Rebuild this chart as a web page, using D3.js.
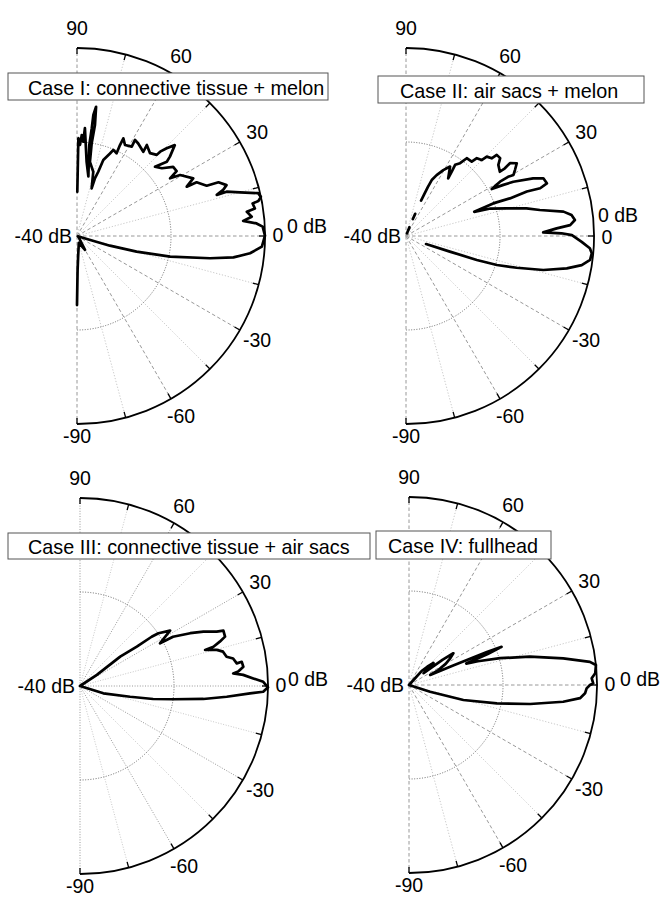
<!DOCTYPE html>
<html>
<head>
<meta charset="utf-8">
<script src="https://cdn.jsdelivr.net/npm/d3@7"></script>
<style>
  html, body { margin: 0; padding: 0; background: #fff; }
  svg { display: block; }
  text { font-family: "Liberation Sans", Arial, Helvetica, sans-serif; fill: #000; }
</style>
</head>
<body>
<svg id="chart" width="662" height="902"></svg>
<script>
// ---------- data (angle in degrees, level in dB; null = gap) ----------
const titles = [
  "Case I: connective tissue + melon",
  "Case II: air sacs + melon",
  "Case III: connective tissue + air sacs",
  "Case IV: fullhead"
];
const angleTicks = [90, 60, 30, 0, -30, -60, -90];
const radialMin = -40, radialMax = 0, radialMid = -20;
const radialLabels = ["-40 dB", "0 dB"];

const case1Angles = [-90, -89, -87, -75, -60, -40, -18, -17, -16.4, -14.7, -12.5, -9.5, -7.8, -5.7, -3.3, 0.1,
  2.9, 4.0, 5.2, 6.3, 8.1, 8.8, 10.5, 10.9, 12.0, 13.3, 15.0, 16.5, 16.4, 17.5, 18.8, 20.8, 21.2, 24.2, 24.2,
  26.4, 30.6, 31.8, 33.1, 35.7, 38.6, 41.6, 39.6, 40.5, 42.9, 44.4, 45.4, 45.5, 48.6, 52.5, 51.8, 56.5, 58.9,
  58.5, 62.2, 64.6, 64.7, 64.4, 67.1, 68.2, 70.9, 71.7, 72.7, 72.9, 75.8, 80.1, 81.0, 80.8, 81.6, 82.3, 82.2,
  82.3, 79.2, 82.6, 85.8, 86.2, 87.3, 88.1, 89.2, 89.6];
const case1Levels = [-25.3, -32.8, -35.5, -38.5, -36.6, -39.5, -39.8, -37.8, -32.7, -26.9, -19.7, -11.3, -6.4, -3.0, -0.6, 0,
  -0.45, -1.7, -4.5, -2.6, -3.5, -1.7, -2.0, -0.7, 0, -0.4, -4.1, -6.8, -9.0, -7.4, -6.4, -7.8, -10.4, -12.1, -14.4,
  -12.4, -14.5, -16.7, -14.7, -14.8, -16.9, -17.8, -15.2, -14.0, -11.6, -13.3, -14.8, -15.8, -16.5, -15.6, -17.2, -16.4, -16.1,
  -17.7, -18.1, -17.0, -18.6, -20.5, -20.1, -21.1, -22.9, -25.6, -27.1, -29.4, -25.9, -24.0, -20.0, -16.1, -12.2, -14.0, -16.9,
  -20.5, -27.1, -24.1, -17.0, -19.9, -18.5, -20.6, -19.2, -30.6];

const case2Angles = [-21.8, -19.6, -18.7, -17.7, -16.0, -13.9, -11.4, -9.4, -7.4, -5.3, -3.8, -1.9, 0.3, 1.0, 1.5,
  2.9, 3.8, 5.4, 7.2, 8.8, 11.0, 12.9, 15.4, 18.0, 19.5, 20.5, 19.9, 20.2, 19.6, 20.5, 22.8, 24.4, 26.8, 27.7,
  28.7, 30.0, 30.1, 29.6, 31.2, 33.3, 35.0, 34.4, 34.4, 37.6, 39.6, 41.8, 42.2, 44.5, 45.1, 47.7, 48.5, 52.0,
  53.4, 55.4, 54.6, 53.8, 57.6, 60.5, 63.3, 65.3, 66.0, 66.5, 67.0, 67.2, 67.5, 68.0, 68.2, 68.5, 69.0];
const case2Levels = [-35.4, -30.1, -24.1, -19.7, -15.5, -9.9, -5.1, -2.1, -0.5, -0.3, -0.8, -2.6, -4.7, -6.9, -10.8,
  -7.9, -5.0, -3.9, -4.5, -6.1, -11.0, -13.7, -17.8, -21.1, -24.6, -20.2, -16.5, -12.6, -9.7, -8.0, -8.3, -10.3, -14.4, -16.6,
  -19.2, -16.9, -14.9, -13.7, -12.9, -11.8, -13.0, -14.5, -15.8, -15.2, -14.0, -14.1, -15.4, -15.9, -17.2, -17.6, -18.9, -19.0,
  -20.7, -21.6, -23.2, -24.8, -22.5, -23.9, -25.5, -26.9, -28.6, -30.5, -31.8, null, -34.9, -36.1, null, -38.0, -39.4];

const case3Angles = [-20, -17.4, -12.1, -10.1, -8.1, -6.0, -4.2, -2.5, -1.8, -0.4, 1.3, 2.5, 3.9, 4.7, 5.2, 6.7,
  8.5, 8.2, 10.2, 11.3, 13.5, 14.8, 16.1, 16.4, 17.6, 18.8, 21.1, 21.7, 23.8, 25.6, 27.9, 28.1, 31.6, 33.9,
  34.5, 34.7, 36.2, 33.4, 35];
const case3Levels = [-40, -34.8, -29.1, -24.2, -20.0, -13.6, -8.7, -3.8, -1.0, 0, -1.0, -3.1, -5.2, -7.3, -6.2, -5.0,
  -5.2, -6.3, -6.9, -8.2, -8.7, -9.9, -12.3, -10.4, -8.8, -7.4, -7.3, -8.7, -11.3, -14.0, -17.6, -20.7, -17.5, -19.9,
  -21.5, -25.3, -29.4, -35.7, -40];

const case4Angles = [-22, -17.7, -15.4, -11.8, -8.9, -6.2, -4.4, -2.7, -1.1, 0, 0.5, 2.1, 3.6, 6.1, 7.3, 9.8,
  13.2, 16.4, 19.0, 20.5, 21.5, 22.4, 23.0, 24.0, 25.5, 27, 30, 33, 35.6, 37, 39, 42, 45, 48, 52];
const case4Levels = [-40, -35.3, -28.0, -20.9, -13.9, -7.0, -3.5, -2.5, -2.2, -1.5, -0.8, -1.1, -0.3, 0, -1.2, -6.7,
  -13.6, -19.8, -24.5, -27, -22, -18.7, -22, -30, -35, -33, -31, -29.5, -28.4, -31, -36, -33, -34.5, -36, -40];

// ---------- layout ----------
const R = 188;
const panels = [
  { cx: 77,  cy: 236, angles: case1Angles, levels: case1Levels, box: [8, 73, 320, 27],   textX: 28,  dbPos: [287, 226], zeroDy: -1, dotted: false },
  { cx: 406, cy: 236, angles: case2Angles, levels: case2Levels, box: [378, 76, 266, 27], textX: 400, dbPos: [598, 215], zeroDy: 1,  dotted: false },
  { cx: 80,  cy: 686, angles: case3Angles, levels: case3Levels, box: [8, 533, 362, 26],  textX: 28,  dbPos: [288, 679], zeroDy: -1, dotted: true },
  { cx: 409, cy: 685, angles: case4Angles, levels: case4Levels, box: [376, 531, 175, 28], textX: 388, dbPos: [620, 678.5], zeroDy: -1, dotted: false }
];

const svg = d3.select("#chart");
const rad = d => d * Math.PI / 180;
const rScale = d3.scaleLinear().domain([radialMin, radialMax]).range([0, R]).clamp(true);
const spokeAngles = d3.range(-90, 91, 15);
const labelR = d => d === 0 ? 201 : (d === -90 ? 200 : 208);

panels.forEach((p, idx) => {
  const g = svg.append("g").attr("transform", `translate(${p.cx},${p.cy})`);

  // spokes
  g.selectAll("line.spoke").data(spokeAngles).join("line")
    .attr("class", "spoke")
    .attr("x1", 0).attr("y1", 0)
    .attr("x2", d => R * Math.cos(rad(d)))
    .attr("y2", d => -R * Math.sin(rad(d)))
    .attr("stroke", d => (d % 30 === 0) ? "#8c8c8c" : "#c2c2c2")
    .attr("stroke-width", 0.9)
    .attr("stroke-dasharray", d => p.dotted ? "1,1.6" : ((d % 30 === 0) ? "3.5,2.5" : "1.2,1.8"));

  // inner circle at -20 dB
  const inner = d3.path();
  inner.arc(0, 0, rScale(radialMid), -Math.PI / 2, Math.PI / 2);
  g.append("path").attr("d", inner.toString())
    .attr("fill", "none").attr("stroke", "#6a6a6a").attr("stroke-width", 1)
    .attr("stroke-dasharray", "1,1.6");

  // outer arc
  const outer = d3.path();
  outer.arc(0, 0, R, -Math.PI / 2, Math.PI / 2);
  g.append("path").attr("d", outer.toString())
    .attr("fill", "none").attr("stroke", "#000").attr("stroke-width", 1.8);

  // ticks
  g.selectAll("line.tick").data(spokeAngles).join("line")
    .attr("class", "tick")
    .attr("x1", d => R * Math.cos(rad(d)))
    .attr("y1", d => -R * Math.sin(rad(d)))
    .attr("x2", d => (R - 6) * Math.cos(rad(d)))
    .attr("y2", d => -(R - 6) * Math.sin(rad(d)))
    .attr("stroke", "#000").attr("stroke-width", 1.3);

  // curve
  const pts = p.angles.map((a, i) => ({ a: a, v: p.levels[i] }));
  const line = d3.lineRadial()
    .angle(d => rad(90 - d.a))
    .radius(d => rScale(d.v))
    .defined(d => d.v !== null);
  g.append("path").datum(pts).attr("d", line)
    .attr("fill", "none").attr("stroke", "#000").attr("stroke-width", 2.7)
    .attr("stroke-linejoin", "round").attr("stroke-linecap", "round");

  // angle labels
  g.selectAll("text.ang").data(angleTicks).join("text")
    .attr("class", "ang")
    .attr("x", d => labelR(d) * Math.cos(rad(d)))
    .attr("y", d => (d === 0 ? p.zeroDy : -labelR(d) * Math.sin(rad(d))))
    .attr("text-anchor", "middle")
    .attr("dominant-baseline", "central")
    .attr("font-size", "19.5px")
    .text(d => d);

  // radial labels
  g.append("text").attr("x", -5).attr("y", 0)
    .attr("text-anchor", "end").attr("dominant-baseline", "central")
    .attr("font-size", "19.5px").text(radialLabels[0]);
  svg.append("text").attr("x", p.dbPos[0]).attr("y", p.dbPos[1])
    .attr("text-anchor", "start").attr("dominant-baseline", "central")
    .attr("font-size", "19.5px").text(radialLabels[1]);

  // title box
  svg.append("rect")
    .attr("x", p.box[0]).attr("y", p.box[1]).attr("width", p.box[2]).attr("height", p.box[3])
    .attr("fill", "#fff").attr("stroke", "#555").attr("stroke-width", 1);
  svg.append("text")
    .attr("x", p.textX).attr("y", p.box[1] + p.box[3] / 2 + 1)
    .attr("dominant-baseline", "central")
    .attr("font-size", "19.8px")
    .text(titles[idx]);
});
</script>
</body>
</html>
